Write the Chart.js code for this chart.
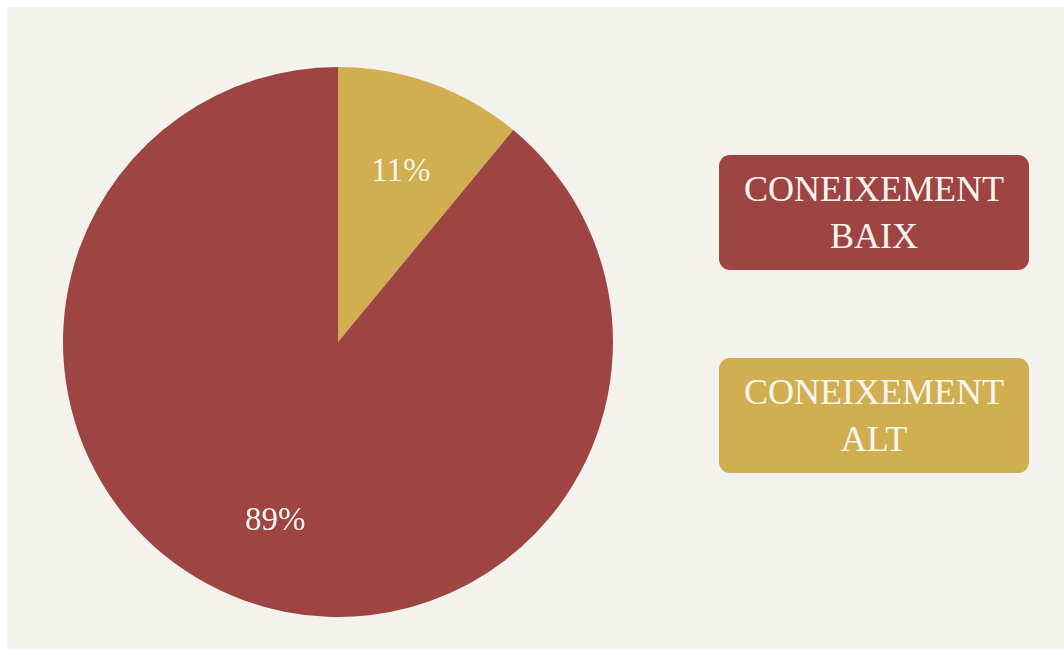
<!DOCTYPE html>
<html lang="ca">
<head>
    <meta charset="UTF-8">
    <title>Coneixement</title>
    <script src="https://cdn.jsdelivr.net/npm/chart.js"></script>
    <style>
        html, body { margin: 0; padding: 0; background: #ffffff; }
        .paper {
            position: absolute; left: 7px; top: 7px; width: 1057px; height: 642px;
            background: #f4f2ed;
        }
        .pie-box { position: absolute; left: 63px; top: 67px; width: 550px; height: 550px; }
        .legend-item {
            position: absolute; left: 719px; width: 310px; height: 115px;
            border-radius: 11px; color: #fbf6ef;
            font-family: "Liberation Serif", "DejaVu Serif", serif; font-size: 36px;
            line-height: 47px; text-align: center;
            display: flex; align-items: center; justify-content: center;
        }
    </style>
</head>
<body>
    <div class="paper"></div>
    <div class="pie-box"><canvas id="pieChart"></canvas></div>
    <div id="legend"></div>

    <script>
        const labels = ['CONEIXEMENT ALT', 'CONEIXEMENT BAIX'];
        const values = [11, 89];
        const colors = ['#d1ae4f', '#9e4443'];

        // legend boxes on the right (low first, then high)
        const legendOrder = [1, 0];
        const legendTops = [155, 358];
        const legend = document.getElementById('legend');
        legendOrder.forEach((idx, i) => {
            const words = labels[idx].split(' ');
            const div = document.createElement('div');
            div.className = 'legend-item';
            div.style.top = legendTops[i] + 'px';
            div.style.background = colors[idx];
            div.innerHTML = words[0] + '<br>' + words.slice(1).join(' ');
            legend.appendChild(div);
        });

        // percent labels inside slices
        const sliceLabels = {
            id: 'sliceLabels',
            afterDatasetsDraw(chart) {
                const ctx = chart.ctx;
                const total = values.reduce((a, b) => a + b, 0);
                chart.getDatasetMeta(0).data.forEach((arc, i) => {
                    const mid = (arc.startAngle + arc.endAngle) / 2;
                    const r = arc.outerRadius * 0.675;
                    const x = arc.x + Math.cos(mid) * r;
                    const y = arc.y + Math.sin(mid) * r + 5;
                    ctx.save();
                    ctx.fillStyle = '#fbf6ef';
                    ctx.font = '33px "Liberation Serif", "DejaVu Serif", serif';
                    ctx.textAlign = 'center';
                    ctx.textBaseline = 'middle';
                    ctx.fillText(Math.round(values[i] / total * 100) + '%', x, y);
                    ctx.restore();
                });
            }
        };

        new Chart(document.getElementById('pieChart'), {
            type: 'pie',
            data: {
                labels: labels,
                datasets: [{
                    data: values,
                    backgroundColor: colors,
                    borderWidth: 0
                }]
            },
            options: {
                responsive: true,
                maintainAspectRatio: false,
                animation: false,
                layout: { padding: 0 },
                plugins: {
                    legend: { display: false },
                    tooltip: { enabled: false }
                }
            },
            plugins: [sliceLabels]
        });
    </script>
</body>
</html>
